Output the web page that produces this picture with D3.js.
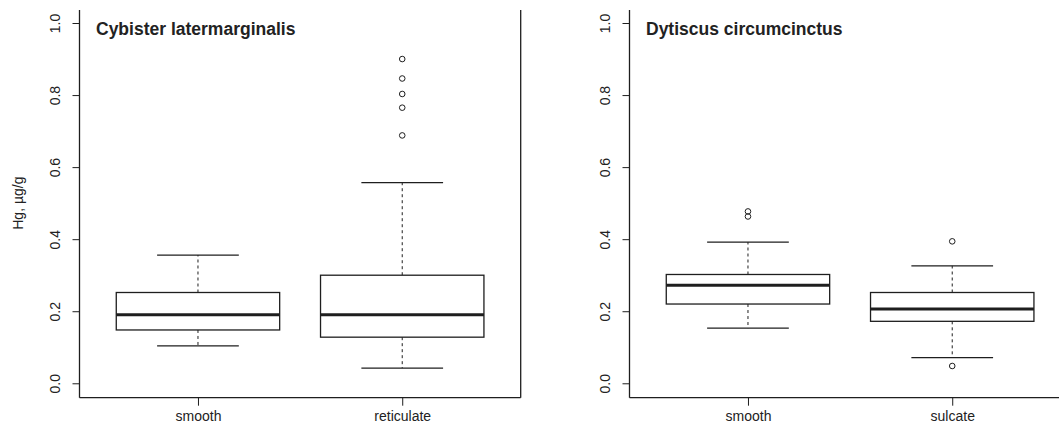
<!DOCTYPE html>
<html>
<head>
<meta charset="utf-8">
<script src="https://cdn.jsdelivr.net/npm/d3@7"></script>
<style>
  html, body { margin: 0; padding: 0; background: #fff; }
  svg { display: block; }
  text { font-family: "Liberation Sans", Arial, sans-serif; fill: #222; }
</style>
</head>
<body>
<svg id="chart" width="1059" height="425"></svg>
<script>
// ---- data ----
const panelTitles = ["Cybister latermarginalis", "Dytiscus circumcinctus"];
const leftGroups = ["smooth", "reticulate"];
const rightGroups = ["smooth", "sulcate"];
// [lowWhisker, q1, median, q3, highWhisker]
const leftStats = [
  [0.104, 0.148, 0.190, 0.252, 0.356],
  [0.042, 0.128, 0.190, 0.300, 0.557]
];
const rightStats = [
  [0.153, 0.220, 0.272, 0.302, 0.392],
  [0.071, 0.172, 0.206, 0.252, 0.326]
];
const leftOutliers = [[], [0.900, 0.846, 0.803, 0.765, 0.688]];
const rightOutliers = [[0.477, 0.463], [0.394, 0.048]];
const yTicks = [0.0, 0.2, 0.4, 0.6, 0.8, 1.0];
const yLabel = "Hg, µg/g";

const svg = d3.select("#chart");
const ink = "#1e1e1e";
const fontFam = '"Liberation Sans", Arial, sans-serif';

function panel(opts) {
  const { x0, x1, title, groups, stats, outliers, yTitle } = opts;
  const g = svg.append("g");
  const n = groups.length;
  const xs = d3.scaleLinear().domain([0.42, n + 0.58]).range([x0, x1]);
  const ys = d3.scaleLinear().domain([-0.04, 1.04]).range([397.7, 8.6]);
  const yTop = 10;

  // frame: left, bottom, right
  g.append("line").attr("x1", x0).attr("x2", x0).attr("y1", yTop).attr("y2", ys(-0.04))
    .attr("stroke", ink).attr("stroke-width", 1.3);
  g.append("line").attr("x1", x0).attr("x2", x1).attr("y1", ys(-0.04)).attr("y2", ys(-0.04))
    .attr("stroke", ink).attr("stroke-width", 1.3);
  g.append("line").attr("x1", x1).attr("x2", x1).attr("y1", yTop).attr("y2", ys(-0.04))
    .attr("stroke", ink).attr("stroke-width", 1.3);

  // y axis
  const yAxis = d3.axisLeft(ys).tickValues(yTicks).tickSize(7).tickFormat(d3.format(".1f"));
  const ya = g.append("g").attr("transform", `translate(${x0},0)`).call(yAxis);
  ya.select(".domain").remove();
  ya.selectAll(".tick line").attr("stroke", ink).attr("stroke-width", 1);
  ya.selectAll(".tick text")
    .attr("x", 0).attr("dy", null)
    .attr("transform", `translate(${-25},0) rotate(-90)`)
    .attr("text-anchor", "middle")
    .attr("dominant-baseline", "central")
    .style("font-size", "14px")
    .style("font-family", fontFam)
    .attr("fill", ink);

  // x axis
  const xAxis = d3.axisBottom(xs).tickValues(d3.range(1, n + 1)).tickSize(8)
    .tickFormat((d, i) => groups[i]);
  const xa = g.append("g").attr("transform", `translate(0,${ys(-0.04)})`).call(xAxis);
  xa.select(".domain").remove();
  xa.selectAll(".tick line").attr("stroke", ink).attr("stroke-width", 1);
  xa.selectAll(".tick text")
    .attr("y", 23).attr("dy", null)
    .style("font-size", "14px")
    .style("font-family", fontFam)
    .attr("fill", ink);

  // boxes
  const bw = xs(1.8) - xs(1);
  const cw = bw / 2;
  stats.forEach((s, i) => {
    const cx = xs(i + 1);
    const [lo, q1, md, q3, hi] = s;
    const bg = g.append("g");
    bg.append("line").attr("x1", cx).attr("x2", cx).attr("y1", ys(q3)).attr("y2", ys(hi))
      .attr("stroke", ink).attr("stroke-width", 1).attr("stroke-dasharray", "3,3");
    bg.append("line").attr("x1", cx).attr("x2", cx).attr("y1", ys(q1)).attr("y2", ys(lo))
      .attr("stroke", ink).attr("stroke-width", 1).attr("stroke-dasharray", "3,3");
    [lo, hi].forEach(v => {
      bg.append("line").attr("x1", cx - cw / 2).attr("x2", cx + cw / 2)
        .attr("y1", ys(v)).attr("y2", ys(v)).attr("stroke", ink).attr("stroke-width", 1.3);
    });
    bg.append("rect").attr("x", cx - bw / 2).attr("width", bw)
      .attr("y", ys(q3)).attr("height", ys(q1) - ys(q3))
      .attr("fill", "#fff").attr("stroke", ink).attr("stroke-width", 1.3);
    bg.append("line").attr("x1", cx - bw / 2).attr("x2", cx + bw / 2)
      .attr("y1", ys(md)).attr("y2", ys(md)).attr("stroke", ink).attr("stroke-width", 3);
    bg.selectAll("circle.out").data(outliers[i]).enter().append("circle")
      .attr("class", "out")
      .attr("cx", cx).attr("cy", d => ys(d)).attr("r", 2.8)
      .attr("fill", "none").attr("stroke", ink).attr("stroke-width", 1);
  });

  // title
  g.append("text").attr("x", x0 + 16.5).attr("y", 35)
    .style("font-size", "17.5px").style("font-weight", "bold")
    .text(title);

  if (yTitle) {
    g.append("text")
      .attr("transform", `translate(${17.5},${ys(0.5)}) rotate(-90)`)
      .attr("text-anchor", "middle").attr("dominant-baseline", "central")
      .style("font-size", "14px")
      .text(yTitle);
  }
}

panel({ x0: 79.5, x1: 520.7, title: panelTitles[0], groups: leftGroups,
        stats: leftStats, outliers: leftOutliers, yTitle: yLabel });
panel({ x0: 629.5, x1: 1070.7, title: panelTitles[1], groups: rightGroups,
        stats: rightStats, outliers: rightOutliers, yTitle: null });
</script>
</body>
</html>
